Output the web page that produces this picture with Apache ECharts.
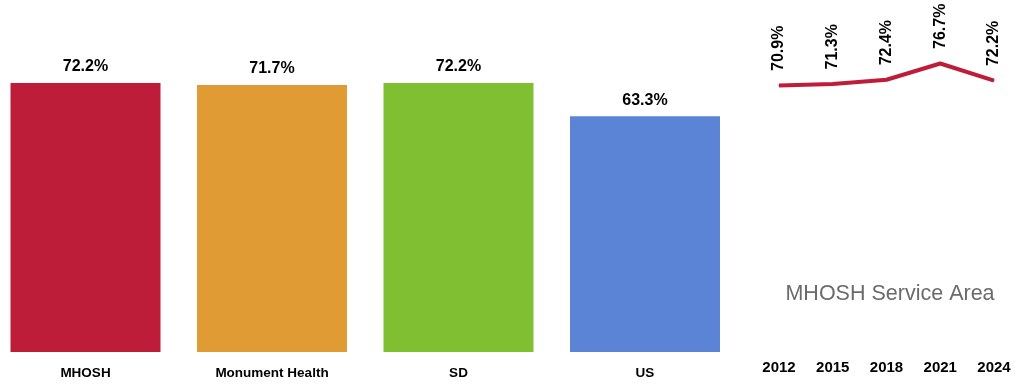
<!DOCTYPE html>
<html><head><meta charset="utf-8">
<script src="https://cdn.jsdelivr.net/npm/echarts@6/dist/echarts.min.js"></script>
<style>html,body{margin:0;padding:0;background:#fff}#c{width:1017px;height:386px}</style>
</head><body><div id="c"></div>
<script>
const barCategories = ['MHOSH', 'Monument Health', 'SD', 'US'];
const barValues = [72.2, 71.7, 72.2, 63.3];
const barColors = ['#BE1D3A', '#E09B34', '#80BF31', '#5B84D6'];
const years = ['2012', '2015', '2018', '2021', '2024'];
const trendValues = [70.9, 71.3, 72.4, 76.7, 72.2];
const trendTitle = 'MHOSH Service Area';

const FONT = '"Liberation Sans Narrow", "Arial Narrow", "Liberation Sans", sans-serif';
const chart = echarts.init(document.getElementById('c'));
chart.setOption({
  animation: false,
  backgroundColor: '#fff',
  title: {
    text: trendTitle, left: 885, top: 278, textAlign: 'center',
    textStyle: { color: '#6b6b6b', fontSize: 21.5, fontWeight: 'normal', fontFamily: '"Liberation Sans", Arial, sans-serif' }
  },
  grid: [
    { left: 85.5, width: 559.5, top: 54, height: 298 },
    { left: 779, width: 215, top: 51, height: 303 }
  ],
  xAxis: [
    { type: 'category', gridIndex: 0, data: barCategories, boundaryGap: false,
      axisLine: { show: false }, axisTick: { show: false },
      axisLabel: { margin: 14, color: '#000', fontWeight: 'bold', fontSize: 13.5, fontFamily: FONT } },
    { type: 'category', gridIndex: 1, data: years, boundaryGap: false,
      axisLine: { show: false }, axisTick: { show: false },
      axisLabel: { margin: 6, color: '#000', fontWeight: 'bold', fontSize: 15, fontFamily: FONT } }
  ],
  yAxis: [
    { type: 'value', gridIndex: 0, min: 0, max: 80, show: false, splitLine: { show: false } },
    { type: 'value', gridIndex: 1, min: 0, max: 80, show: false, splitLine: { show: false } }
  ],
  series: [
    { type: 'bar', xAxisIndex: 0, yAxisIndex: 0, barWidth: 150,
      data: barValues.map((v, i) => ({ value: v, itemStyle: { color: barColors[i] } })),
      label: { show: true, position: 'top', distance: 8, formatter: p => p.value.toFixed(1) + '%',
        color: '#000', fontWeight: 'bold', fontSize: 16, fontFamily: FONT } },
    { type: 'line', xAxisIndex: 1, yAxisIndex: 1, data: trendValues,
      symbol: 'circle', symbolSize: 1, showSymbol: true,
      itemStyle: { color: '#BE1D3A' },
      lineStyle: { color: '#BE1D3A', width: 4 },
      label: { show: true, position: 'top', distance: 14, rotate: 90, align: 'left', verticalAlign: 'middle',
        formatter: p => p.value.toFixed(1) + '%',
        color: '#000', fontWeight: 'bold', fontSize: 16, fontFamily: FONT } }
  ]
});
</script></body></html>
